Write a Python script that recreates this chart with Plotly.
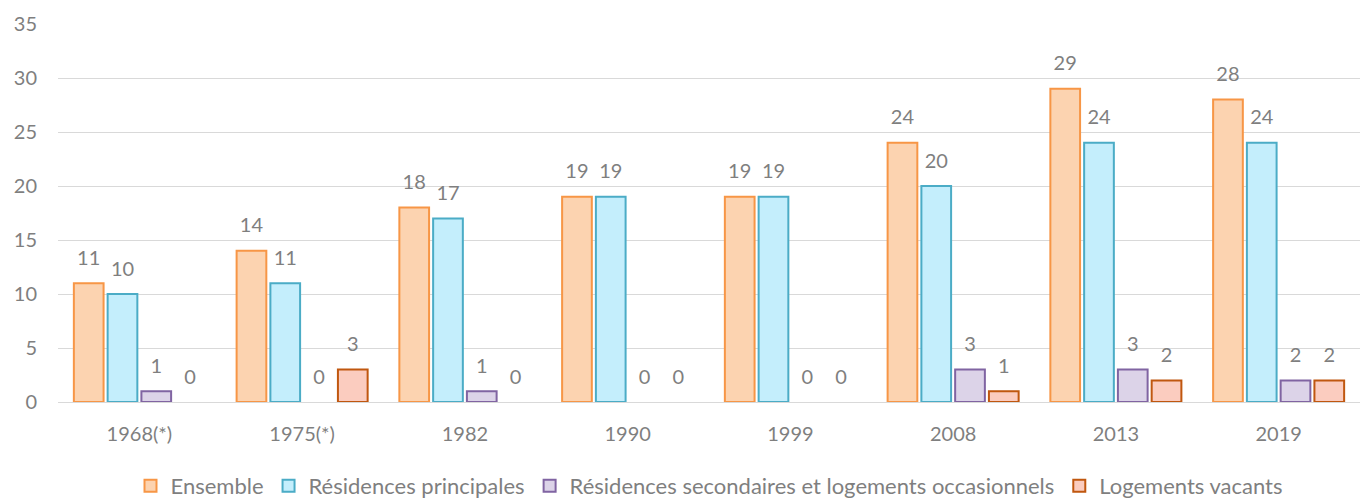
import plotly.graph_objects as go

years = ["1968(*)", "1975(*)", "1982", "1990", "1999", "2008", "2013", "2019"]
ensemble = [11, 14, 18, 19, 19, 24, 29, 28]
principales = [10, 11, 17, 19, 19, 20, 24, 24]
secondaires = [1, 0, 1, 0, 0, 3, 3, 2]
vacants = [0, 3, 0, 0, 0, 1, 2, 2]

series = [
    ("Ensemble", ensemble, "#FCD3B0", "#F79646"),
    ("Résidences principales", principales, "#C4EEFC", "#4BACC6"),
    ("Résidences secondaires et logements occasionnels", secondaires, "#DCD3E8", "#8064A2"),
    ("Logements vacants", vacants, "#FBCCBF", "#C0570F"),
]

font_family = "Lato, 'Open Sans', sans-serif"
grey = "#7F7F7F"
bar_gap = 0.17

fig = go.Figure()
for i, (name, vals, fill, line) in enumerate(series):
    # zero-valued bars get no outline so nothing is drawn on the baseline
    widths = [2 if v > 0 else 0 for v in vals]
    fig.add_trace(go.Bar(
        x=years, y=vals, name=name, offsetgroup=str(i), legendgroup=name,
        marker=dict(color=fill, line=dict(color=line, width=widths)),
        showlegend=False,
    ))
    # legend swatch for the series (shares the bar's slot, holds no data)
    fig.add_trace(go.Bar(
        x=[None], y=[None], name=name, offsetgroup=str(i), legendgroup=name,
        marker=dict(color=fill, line=dict(color=line, width=2)),
        hoverinfo="skip",
    ))
for i, (name, vals, fill, line) in enumerate(series):
    # value labels, lifted above each bar by an invisible marker
    fig.add_trace(go.Scatter(
        x=years, y=vals, mode="markers+text", offsetgroup=str(i),
        marker=dict(size=20, color="rgba(0,0,0,0)"),
        text=[str(v) for v in vals], textposition="top center",
        textfont=dict(size=20, color=grey, family=font_family),
        showlegend=False, hoverinfo="skip", cliponaxis=False,
    ))

fig.update_layout(
    width=1360, height=500,
    margin=dict(l=58, r=0, t=24, b=98),
    paper_bgcolor="white", plot_bgcolor="white",
    barmode="group", bargap=bar_gap, bargroupgap=0.12,
    scattermode="group", scattergap=bar_gap,
    font=dict(family=font_family, color=grey, size=20),
    legend=dict(orientation="h", x=0.5, xanchor="center",
                yref="container", y=0.028, yanchor="middle",
                font=dict(size=22, color=grey), itemwidth=30, tracegroupgap=24),
    xaxis=dict(showgrid=False, showline=True, linecolor="#D9D9D9", linewidth=1,
               tickfont=dict(size=20, color=grey), ticks="", ticklabelstandoff=14),
    yaxis=dict(range=[0, 35], dtick=5, showgrid=True, gridcolor="#D9D9D9", gridwidth=1,
               zeroline=False, tickfont=dict(size=20, color=grey), ticks="",
               ticklabelstandoff=20),
)

fig.write_html("out.html")
